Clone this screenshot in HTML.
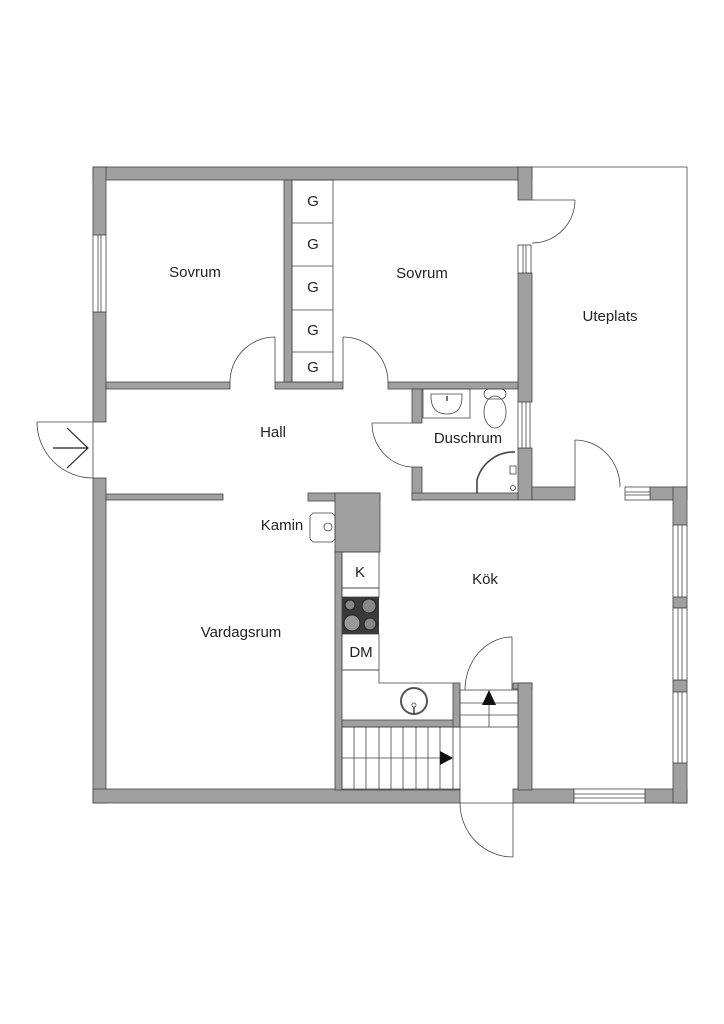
<!DOCTYPE html>
<html><head><meta charset="utf-8"><style>
html,body{margin:0;padding:0;background:#fff;}
svg{display:block;}
text{font-family:"Liberation Sans",sans-serif;font-size:15px;fill:#222;text-anchor:middle;}
</style></head><body>
<svg width="724" height="1024" viewBox="0 0 724 1024" xmlns="http://www.w3.org/2000/svg">
<g fill="#a0a0a0" stroke="#444" stroke-width="0.8">
<rect x="93" y="167" width="439" height="13"/>
<rect x="93" y="167" width="13" height="68"/>
<rect x="93" y="312" width="13" height="110"/>
<rect x="93" y="478" width="13" height="325"/>
<rect x="93" y="789" width="367" height="14"/>
<rect x="513" y="789" width="61" height="14"/>
<rect x="645" y="789" width="42" height="14"/>
<rect x="518" y="167" width="14" height="33"/>
<rect x="518" y="273" width="14" height="129"/>
<rect x="518" y="448" width="14" height="52"/>
<rect x="532" y="487" width="43" height="13"/>
<rect x="650" y="487" width="37" height="13"/>
<rect x="673" y="487" width="14" height="38"/>
<rect x="673" y="597" width="14" height="11"/>
<rect x="673" y="680" width="14" height="12"/>
<rect x="673" y="763" width="14" height="40"/>
<rect x="106" y="382" width="124" height="7"/>
<rect x="275" y="382" width="68" height="7"/>
<rect x="388" y="382" width="130" height="7"/>
<rect x="284" y="180" width="8" height="202"/>
<rect x="412" y="389" width="10" height="34"/>
<rect x="412" y="467" width="10" height="33"/>
<rect x="412" y="493" width="106" height="7"/>
<rect x="106" y="494" width="117" height="6"/>
<rect x="308" y="493" width="72" height="8"/>
<rect x="335" y="493" width="45" height="59"/>
<rect x="335" y="552" width="7" height="238"/>
<rect x="342" y="720" width="118" height="7"/>
<rect x="453" y="683" width="7" height="44"/>
<rect x="513" y="683" width="19" height="6"/>
<rect x="518" y="683" width="14" height="107"/>
</g>
<g fill="#fff" stroke="#444" stroke-width="0.8">
<rect x="93" y="235" width="13" height="77"/><line x1="98" y1="235" x2="98" y2="312"/><line x1="101" y1="235" x2="101" y2="312"/>
<rect x="518" y="245" width="13" height="28"/><line x1="523" y1="245" x2="523" y2="273"/><line x1="526" y1="245" x2="526" y2="273"/>
<rect x="518" y="402" width="12" height="46"/><line x1="522" y1="402" x2="522" y2="448"/><line x1="526" y1="402" x2="526" y2="448"/>
<rect x="625" y="487" width="25" height="13"/><line x1="625" y1="492" x2="650" y2="492"/><line x1="625" y1="495" x2="650" y2="495"/>
<rect x="673" y="525" width="14" height="72"/><line x1="678" y1="525" x2="678" y2="597"/><line x1="682" y1="525" x2="682" y2="597"/>
<rect x="673" y="608" width="14" height="72"/><line x1="678" y1="608" x2="678" y2="680"/><line x1="682" y1="608" x2="682" y2="680"/>
<rect x="673" y="692" width="14" height="71"/><line x1="678" y1="692" x2="678" y2="763"/><line x1="682" y1="692" x2="682" y2="763"/>
<rect x="574" y="789" width="71" height="14"/><line x1="574" y1="794" x2="645" y2="794"/><line x1="574" y1="798" x2="645" y2="798"/>
</g>
<g fill="none" stroke="#444" stroke-width="0.8">
<polyline points="532,167 687,167 687,487"/>
<rect x="292" y="180" width="41" height="202"/>
<line x1="292" y1="223" x2="333" y2="223"/><line x1="292" y1="266" x2="333" y2="266"/><line x1="292" y1="310" x2="333" y2="310"/><line x1="292" y1="352" x2="333" y2="352"/>
<line x1="275" y1="337" x2="275" y2="382"/><path d="M230,382 A45,45 0 0 1 275,337"/>
<line x1="343" y1="337" x2="343" y2="382"/><path d="M388,382 A45,45 0 0 0 343,337"/>
<line x1="532" y1="200" x2="575" y2="200"/><path d="M532,243 A43,43 0 0 0 575,200"/>
<line x1="372" y1="423" x2="412" y2="423"/><path d="M372,423 A42,44 0 0 0 412,467"/>
<line x1="575" y1="440" x2="575" y2="487"/><path d="M575,440 A45,47 0 0 1 620,487"/>
<line x1="37" y1="422" x2="93" y2="422"/><line x1="93" y1="422" x2="93" y2="478"/><path d="M37,422 A56,56 0 0 0 93,478"/>
<line x1="53" y1="448" x2="88" y2="448" stroke="#222" stroke-width="1.2"/><polyline points="67,428 88,448 67,468" stroke="#222" stroke-width="1.2"/>
<line x1="512" y1="637" x2="512" y2="690"/><path d="M465,690 A47,53 0 0 1 512,637"/>
<line x1="460" y1="803" x2="513" y2="803"/><line x1="513" y1="803" x2="513" y2="857"/><path d="M460,803 A53,54 0 0 0 513,857"/>
<path d="M313,513 L332,513 L335,516 L335,539 L332,542 L313,542 L310,539 L310,516 Z"/>
<circle cx="328" cy="527" r="4"/>
<rect x="342" y="552" width="37" height="36"/>
<rect x="342" y="588" width="37" height="9"/>
<rect x="342" y="634" width="37" height="36"/>
<polyline points="342,670 379,670 379,683 453,683"/>
<circle cx="414" cy="701" r="13" stroke="#555" stroke-width="2"/>
<circle cx="414" cy="705" r="2"/><line x1="414" y1="707" x2="414" y2="715" stroke-width="1.5"/>
<rect x="342" y="727" width="118" height="63"/>
<line x1="354" y1="727" x2="354" y2="790"/><line x1="366" y1="727" x2="366" y2="790"/><line x1="379" y1="727" x2="379" y2="790"/><line x1="391" y1="727" x2="391" y2="790"/><line x1="403" y1="727" x2="403" y2="790"/><line x1="416" y1="727" x2="416" y2="790"/><line x1="428" y1="727" x2="428" y2="790"/><line x1="440" y1="727" x2="440" y2="790"/><line x1="453" y1="727" x2="453" y2="790"/>
<line x1="342" y1="758" x2="440" y2="758"/>
<rect x="460" y="690" width="58" height="37"/>
<line x1="460" y1="703" x2="518" y2="703"/><line x1="460" y1="715" x2="518" y2="715"/>
<line x1="489" y1="705" x2="489" y2="727"/>
<rect x="423" y="389" width="47" height="29"/>
<path d="M431,394 L462,394 Q463,414 447,414 Q430,414 431,394 Z"/>
<line x1="447" y1="396" x2="447" y2="401" stroke-width="1.5"/>
<rect x="484" y="389" width="22" height="10" rx="5"/>
<ellipse cx="495" cy="412" rx="11" ry="16"/>
<path d="M477,493 L477,480 A38,38 0 0 1 515,452" stroke-width="1.6"/>
<circle cx="513" cy="488" r="2.5"/><rect x="510" y="466" width="6" height="8"/>
</g>
<polygon points="440,751 453,758 440,765" fill="#111"/>
<polygon points="482,705 489,690 496,705" fill="#111"/>
<rect x="342" y="597" width="37" height="37" fill="#3a3a3a"/>
<g stroke="#222" stroke-width="1">
<circle cx="350" cy="605" r="5" fill="#888"/><circle cx="369" cy="606" r="7" fill="#888"/>
<circle cx="352" cy="623" r="8" fill="#999"/><circle cx="370" cy="624" r="6" fill="#888"/>
</g>
<text x="313" y="206">G</text><text x="313" y="249">G</text><text x="313" y="292">G</text><text x="313" y="335">G</text><text x="313" y="372">G</text>
<text x="195" y="277">Sovrum</text>
<text x="422" y="278">Sovrum</text>
<text x="610" y="321">Uteplats</text>
<text x="273" y="437">Hall</text>
<text x="468" y="443">Duschrum</text>
<text x="282" y="530">Kamin</text>
<text x="485" y="584">Kök</text>
<text x="241" y="637">Vardagsrum</text>
<text x="360" y="577">K</text>
<text x="361" y="657">DM</text>
</svg>
</body></html>
